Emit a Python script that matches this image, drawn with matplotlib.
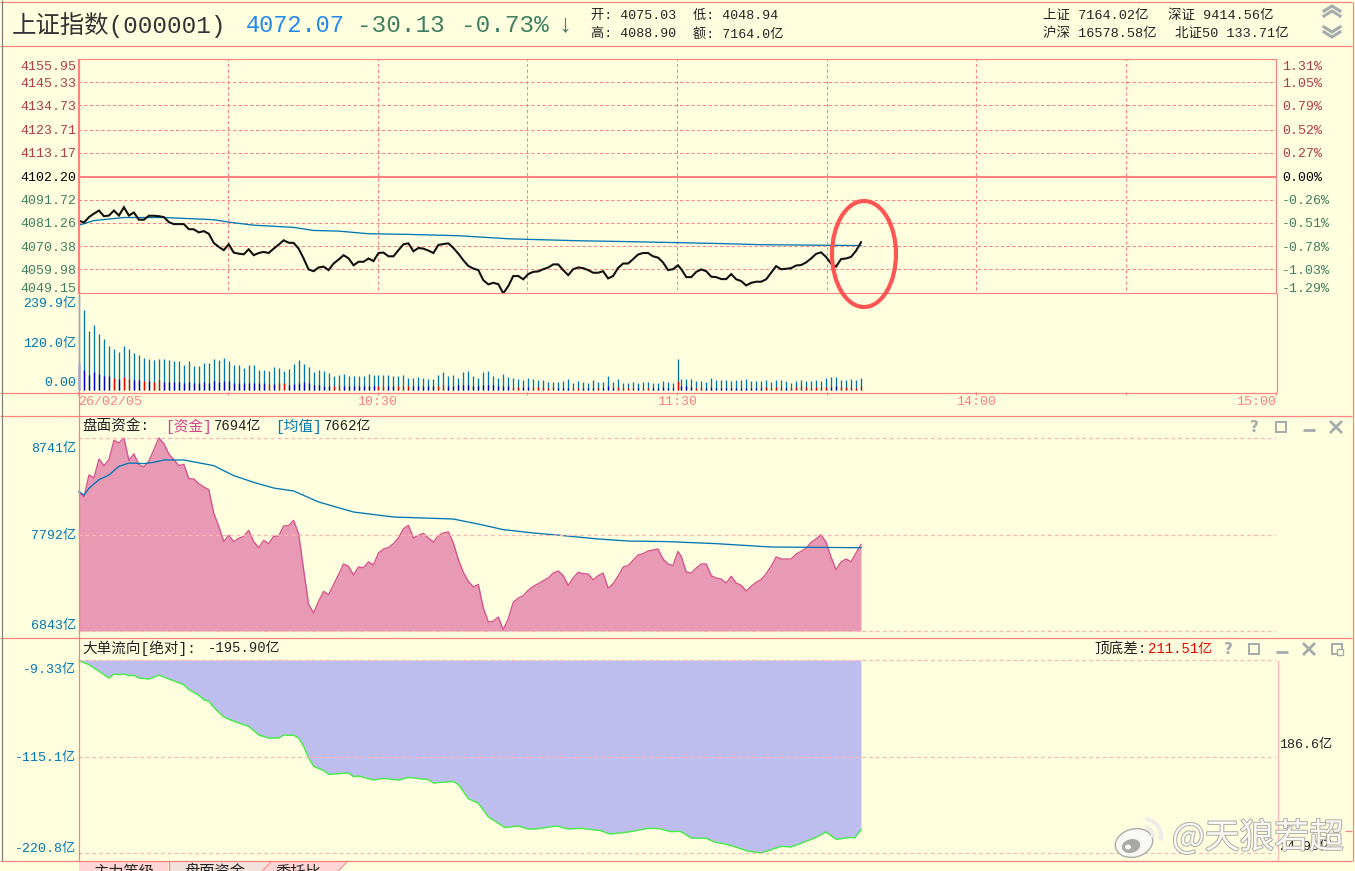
import numpy as np
from matplotlib import pyplot as plt
from matplotlib.patches import Ellipse, Polygon, Arc, Rectangle
from matplotlib.transforms import ScaledTranslation
import matplotlib.patheffects as pe

plt.rcParams['font.family'] = ['Liberation Mono', 'Noto Sans CJK SC', 'DejaVu Sans']

W, H = 1355, 871
BG = "#FFFFE0"
RED = "#FF8080"
LIGHT = "#FFB4B4"
BLUE = "#0077B3"
UP = "#B03A48"
DOWN = "#3F7F5F"
ICON = "#A4ABAB"

# index, one value a minute
price_values = [
    4082.2, 4081.3, 4083.8, 4085.4, 4086.8, 4084.2, 4084.5, 4086.8, 4084.5, 4088.3,
    4084.5, 4085.9, 4082.6, 4082.6, 4084.4, 4084.4, 4084.2, 4083.8, 4081.5, 4080.6,
    4080.6, 4080.6, 4078.3, 4078.2, 4076.8, 4077.4, 4076.2, 4072.0, 4070.2, 4068.7,
    4071.4, 4067.6, 4067.1, 4066.8, 4069.1, 4066.4, 4067.4, 4067.9, 4067.4, 4069.4,
    4071.2, 4073.2, 4072.1, 4072.0, 4069.4, 4064.9, 4059.9, 4059.1, 4060.8, 4061.2,
    4059.6, 4062.6, 4064.4, 4066.4, 4065.0, 4061.8, 4063.4, 4063.4, 4064.9, 4063.7,
    4067.4, 4067.6, 4065.9, 4065.9, 4068.7, 4071.4, 4071.8, 4068.2, 4069.7, 4069.4,
    4068.5, 4067.4, 4071.1, 4071.5, 4071.8, 4069.7, 4067.1, 4064.1, 4061.5, 4060.3,
    4059.6, 4055.0, 4053.1, 4053.8, 4053.2, 4049.0, 4052.3, 4056.9, 4056.9, 4055.4,
    4057.8, 4058.8, 4059.0, 4060.0, 4060.8, 4062.2, 4062.2, 4059.6, 4057.3, 4060.0,
    4060.8, 4060.5, 4059.6, 4058.4, 4058.4, 4059.1, 4055.8, 4056.9, 4060.6, 4062.6,
    4062.6, 4064.6, 4066.7, 4067.4, 4067.4, 4065.9, 4065.3, 4063.1, 4059.6, 4060.0,
    4061.8, 4060.0, 4056.4, 4056.4, 4058.8, 4059.9, 4059.1, 4056.6, 4056.4, 4055.5,
    4055.5, 4057.8, 4055.4, 4054.6, 4052.6, 4053.8, 4054.3, 4054.3, 4055.4, 4058.4,
    4061.4, 4060.0, 4060.2, 4060.5, 4061.7, 4061.9, 4063.1, 4064.9, 4067.0, 4067.7,
    4065.6, 4062.6, 4061.2, 4064.6, 4064.9, 4065.6, 4068.4, 4072.3,
]
price_avg_minutes = [0, 3, 6, 9, 17, 21, 27, 30, 35, 43, 47, 52, 58, 66, 76, 86, 92, 100, 110, 121, 129, 137, 157]
price_avg_values = [4080.1, 4082.2, 4082.9, 4083.6, 4083.6, 4083.2, 4082.6, 4081.5, 4080.1, 4079.1, 4077.7,
                    4077.4, 4076.2, 4075.9, 4075.3, 4073.9, 4073.5, 4073.0, 4072.6, 4072.1, 4071.7, 4071.2, 4070.8]
price_ticks = [4155.95, 4145.33, 4134.73, 4123.71, 4113.17, 4102.20, 4091.72, 4081.26, 4070.38, 4059.98, 4049.15]
pct_labels = ["1.31%", "1.05%", "0.79%", "0.52%", "0.27%", "0.00%", "-0.26%", "-0.51%", "-0.78%", "-1.03%", "-1.29%"]

# turnover, 100m yuan a minute
vol_total = [
    239.9, 202, 149, 164, 141, 129, 111, 104, 96, 111, 104, 93, 88, 81, 78, 77, 78, 78, 77, 72,
    73, 63, 73, 61, 61, 69, 68, 78, 76, 81, 73, 63, 63, 56, 63, 63, 51, 51, 48, 57,
    55, 47, 54, 66, 76, 66, 58, 45, 51, 48, 43, 35, 39, 40, 36, 35, 35, 35, 40, 39,
    39, 38, 37, 35, 35, 38, 30, 31, 32, 31, 29, 28, 38, 45, 35, 37, 30, 46, 48,
    35, 30, 45, 48, 35, 30, 40, 33, 30, 28, 25, 30, 28, 25, 25, 20, 21, 20, 23, 28,
    18, 23, 20, 18, 25, 20, 20, 35, 20, 28, 18, 18, 20, 18, 20, 20, 18, 18, 23, 20, 18, 78,
    28, 28, 28, 23, 23, 20, 30, 25, 25, 25, 23, 25, 25, 28, 23, 23, 23, 25, 20, 25, 25,
    23, 18, 23, 25, 23, 23, 25, 23, 30, 33, 33, 25, 25, 28, 25, 30,
]
# lower part of each bar, negative is drawn blue and positive red
vol_part = [
    -66, -50, -38, -45, -40, -35, -35, 30, -28, 33, 28, -25, -25, 23, -23, 20, 25, -20, -20, -20,
    -20, -18, -20, -18, -18, -20, -18, -23, -20, -23, -23, -18, -18, -18, -18, -18, -18, -18, 15, -15,
    18, 18, -13, -15, -18, -20, -18, -13, -13, -10, -10, 10, 10, -10, -10, -10, -10, -10, -10, -10,
    10, 10, -10, -10, 10, 10, 10, -10, -10, -10, -10, -10, 10, 13, -10, -10, -13, -13, -13,
    -10, -10, -13, -13, -13, -10, -10, -10, 8, 8, -8, -8, 8, 8, 8, 5, 8, -5, -5, -5,
    5, 5, -5, -5, -5, 5, -5, -10, -5, 8, 5, 5, 5, -5, 5, 5, -5, -5, -8, -5, -5, 23,
    -10, -10, -8, 5, 8, -5, -8, -5, -5, -5, -5, -5, -5, -5, -5, -5, -5, 8, 5, 8, 8,
    -5, 5, 8, 10, 8, 5, 8, 8, 8, -8, -10, 8, 8, 8, 5, 10,
]
vol_ticks = [239.9, 120.0, 0.0]
vol_labels = ["239.9亿", "120.0亿", "0.00"]

# capital on the board, one value a minute
cap_values = [
    8213, 8161, 8377, 8348, 8534, 8469, 8528, 8718, 8692, 8741, 8521, 8584, 8479, 8456, 8512, 8626, 8741, 8685, 8584, 8528,
    8469, 8482, 8341, 8338, 8292, 8259, 8233, 8003, 7872, 7722, 7784, 7722, 7754, 7774, 7833, 7722, 7663, 7735, 7702, 7774,
    7777, 7876, 7879, 7931, 7800, 7446, 7105, 7020, 7135, 7233, 7200, 7299, 7397, 7502, 7479, 7394, 7472, 7466, 7522, 7492,
    7610, 7649, 7663, 7702, 7758, 7849, 7882, 7758, 7784, 7803, 7758, 7718, 7781, 7807, 7817, 7708, 7545, 7420, 7331, 7276,
    7302, 7069, 6932, 6938, 6981, 6856, 6964, 7125, 7168, 7190, 7243, 7282, 7308, 7338, 7364, 7413, 7433, 7390, 7292, 7364,
    7420, 7407, 7404, 7345, 7387, 7413, 7266, 7308, 7381, 7472, 7486, 7538, 7590, 7604, 7630, 7640, 7649, 7551, 7502, 7486,
    7626, 7577, 7423, 7413, 7463, 7502, 7502, 7387, 7364, 7354, 7315, 7381, 7315, 7292, 7236, 7282, 7322, 7348, 7407, 7479,
    7571, 7551, 7551, 7551, 7600, 7626, 7656, 7715, 7748, 7790, 7715, 7571, 7446, 7522, 7551, 7525, 7610, 7694,
]
cap_avg_minutes = [0, 1, 2, 4, 6, 8, 10, 13, 15, 17, 21, 27, 31, 35, 39, 43, 48, 55, 63, 71, 75, 80, 85, 91, 97, 104, 110, 118, 128, 139, 157]
cap_avg_values = [8213, 8180, 8246, 8331, 8377, 8462, 8495, 8489, 8502, 8525, 8525, 8469, 8371, 8305, 8249, 8220, 8112, 8013,
                  7964, 7951, 7944, 7895, 7840, 7807, 7781, 7748, 7728, 7722, 7702, 7669, 7662]
cap_ticks = [8741, 7792, 6843]
cap_labels = ["8741亿", "7792亿", "6843亿"]

# large order flow
big_minutes = [0, 2, 4, 6, 7, 8, 9, 10, 11, 12, 14, 16, 18, 21, 22, 24, 25, 26, 27, 29, 31, 34, 36, 38, 40, 41, 43, 44, 45, 46,
               47, 49, 50, 54, 55, 56, 59, 61, 64, 66, 70, 71, 75, 76, 78, 80, 82, 84, 85.4, 88, 90, 91.6, 95, 96, 98, 100.6,
               104.5, 106.4, 110, 114, 116, 118.5, 120.5, 123, 126, 127.6, 130.4, 134.3, 137, 141, 143, 146, 147.7, 150, 152,
               155, 155.7, 157]
big_values = [-10.1, -14.4, -21.7, -29.1, -24.7, -25.4, -24.7, -26.5, -26.1, -29.1, -30.1, -25.8, -30.1, -36.4, -41.8, -48.0,
              -52.8, -54.6, -61.2, -71.8, -76.5, -82.0, -91.5, -94.8, -94.8, -91.5, -91.9, -94.8, -103.9, -116.7, -125.8,
              -130.6, -134.6, -133.1, -137.2, -136.4, -140.8, -139.0, -140.8, -137.9, -140.5, -144.1, -142.3, -145.9, -161.3,
              -166.4, -181.3, -188.3, -193.0, -191.2, -194.5, -194.5, -191.6, -191.6, -194.5, -193.8, -196.3, -200.0, -197.8,
              -193.8, -193.8, -197.4, -197.1, -204.4, -204.7, -208.7, -211.7, -218.6, -220.8, -213.5, -214.2, -208.0, -204.4,
              -197.8, -205.8, -203.6, -204.4, -195.2]
big_ticks = [-9.33, -115.1, -220.8]
big_labels = ["-9.33亿", "-115.1亿", "-220.8亿"]

time_ticks = [0, 30, 60, 90, 120, 150, 180, 210, 240]
time_labels = ["26/02/05", "", "10:30", "", "11:30", "", "14:00", "", "15:00"]


def shift(minutes):
    # the lunch break squeezes the afternoon a little to the left
    minutes = np.asarray(minutes, dtype=float)
    return np.where(minutes > 120.5, minutes - 0.34, minutes) + 0.2


def make_axes(top, bottom, v1, y1, v2, y2):
    ax = fig.add_axes([78 / W, 1 - bottom / H, (1276 - 78) / W, (bottom - top) / H])
    ax.set_facecolor("none")
    per_px = (v1 - v2) / (y2 - y1)
    ax.set_ylim(v2 - (bottom - y2) * per_px, v1 + (y1 - top) * per_px)
    ax.set_xlim(0, 240)
    ax.set_xticks([])
    for s in ax.spines.values():
        s.set_visible(False)
    ax.tick_params(axis="y", length=0, pad=1)
    return ax


def y_labels(ax, ticks, labels, colors, top_off, bottom_off):
    ax.set_yticks(ticks)
    ax.set_yticklabels(labels, fontsize=9.5)
    ticklabels = ax.get_yticklabels()
    for t, c in zip(ticklabels, colors):
        t.set_color(c)
    # first and last label sit inside the panel, not on their line
    ticklabels[0].set_transform(ticklabels[0].get_transform() + ScaledTranslation(0, -top_off / 100, fig.dpi_scale_trans))
    ticklabels[-1].set_transform(ticklabels[-1].get_transform() + ScaledTranslation(0, bottom_off / 100, fig.dpi_scale_trans))


fig = plt.figure(figsize=(W / 100, H / 100), dpi=100, facecolor=BG)

# price panel
ax1 = make_axes(59, 293, 4155.95, 59, 4049.15, 293)
price_colors = [UP] * 5 + ["black"] + [DOWN] * 5
y_labels(ax1, price_ticks, [f"{v:.2f}" for v in price_ticks], price_colors, 6, 6)
for v in price_ticks[1:-1]:
    if v == 4102.20:
        ax1.axhline(v, color=RED, lw=1.5)
    else:
        ax1.axhline(v, color=RED, lw=0.75, dashes=(3, 2.5))
for m in time_ticks[1:-1]:
    ax1.axvline(m, color=RED, lw=0.75, dashes=(3, 2.5), ymin=0.012)
for s in ax1.spines.values():
    s.set_visible(True)
    s.set_color(RED)
    s.set_linewidth(0.8)
ax1.plot(shift(price_avg_minutes), price_avg_values, color=BLUE, lw=0.95)
ax1.plot(shift(np.arange(len(price_values))), price_values, color="#111111", lw=1.5, solid_joinstyle="miter")
ax1r = ax1.twinx()
ax1r.set_ylim(ax1.get_ylim())
ax1r.set_facecolor("none")
ax1r.tick_params(axis="y", length=0, pad=4.5)
for s in ax1r.spines.values():
    s.set_visible(False)
y_labels(ax1r, price_ticks, pct_labels, price_colors, 6, 6)

# volume panel
ax2 = make_axes(295, 392.5, 239.9, 295, 0, 390)
y_labels(ax2, vol_ticks, vol_labels, [BLUE] * 3, 7, 8)
vol_x = shift(np.arange(len(vol_total)))
ax2.vlines(vol_x, 0, vol_total, color=BLUE, lw=0.95)
part = np.array(vol_part, dtype=float)
ax2.vlines(vol_x[part < 0], 0, -part[part < 0], color="#0000CC", lw=0.95)
ax2.vlines(vol_x[part > 0], 0, part[part > 0], color="#EE0000", lw=0.95)
ax2.set_xticks(time_ticks)
ax2.set_xticklabels(time_labels, fontsize=9.5, color=RED)
ax2.tick_params(axis="x", length=2.5, width=0.75, color=RED, pad=0)
ax2.get_xticklabels()[0].set_horizontalalignment("left")
ax2.get_xticklabels()[-1].set_horizontalalignment("right")

# capital panel
ax3 = make_axes(415, 637, 8741, 438, 6843, 631)
y_labels(ax3, cap_ticks, cap_labels, [BLUE] * 3, 9, 7)
for v in cap_ticks:
    ax3.axhline(v, color=LIGHT, lw=0.9, dashes=(3, 2.5), zorder=3)
cap_x = shift(np.arange(len(cap_values)))
ax3.fill_between(cap_x, cap_values, 6843, color="#E899B3", lw=0)
ax3.plot(cap_x, cap_values, color="#D6548F", lw=1.0)
ax3.plot(shift(cap_avg_minutes), cap_avg_values, color=BLUE, lw=0.95)

# large order panel
ax4 = make_axes(637, 860, -9.33, 660, -220.8, 853)
y_labels(ax4, big_ticks, big_labels, [BLUE] * 3, 8, 6)
for v in big_ticks:
    ax4.axhline(v, color=LIGHT, lw=0.9, dashes=(3, 2.5), zorder=3)
ax4.fill_between(shift(big_minutes), big_values, -9.33, color="#BEBEEE", lw=0)
ax4.plot(shift(big_minutes), big_values, color="#44EE44", lw=1.0)

# frame, titles and everything else in screen pixels
over = fig.add_axes([0, 0, 1, 1])
over.set_xlim(0, W)
over.set_ylim(H, 0)
over.axis("off")
over.set_facecolor("none")


def hline(y, x0, x1, color=RED, lw=0.9):
    over.plot([x0, x1], [y, y], color=color, lw=lw, solid_capstyle="butt")


def vline(x, y0, y1, color=RED, lw=0.9):
    over.plot([x, x], [y0, y1], color=color, lw=lw, solid_capstyle="butt")


def txt(x, y, s, color="#222222", size=9.5, **kw):
    over.text(x, y, s, color=color, fontsize=size, va="center", **kw)


def chevrons(x, y, step):
    for dy in (0, step):
        over.plot([x - 8, x, x + 8], [y + dy + step, y + dy, y + dy + step], color=ICON, lw=2.2, solid_joinstyle="miter")


def buttons(y, xs):
    over.text(xs[0], y, "?", color=ICON, fontsize=11, fontweight="bold", ha="center", va="center", family="DejaVu Sans")
    over.add_patch(Rectangle((xs[1] - 5, y - 5), 10, 10, fc="none", ec=ICON, lw=1.4))
    over.plot([xs[2] - 6, xs[2] + 6], [y + 3, y + 3], color=ICON, lw=2, solid_capstyle="butt")
    over.plot([xs[3] - 5, xs[3] + 5], [y - 5, y + 5], color=ICON, lw=2)
    over.plot([xs[3] - 5, xs[3] + 5], [y + 5, y - 5], color=ICON, lw=2)
    if len(xs) > 4:
        over.add_patch(Rectangle((xs[4] - 5, y - 5), 10, 10, fc="none", ec=ICON, lw=1.4))
        over.add_patch(Rectangle((xs[4], y), 6, 6, fc=BG, ec=ICON, lw=1))


hline(2.5, 0, 1352)
hline(46.5, 0, 1352)
hline(392.5, 0, 1277)
hline(415.5, 0, 1352)
hline(637.5, 0, 1352)
hline(860.5, 0, 1352)
vline(1.5, 0, 861, color="#808080")
vline(78.5, 59, 861)
vline(1277, 293, 392)
vline(1277.5, 660, 860, color=LIGHT, lw=0.8)
vline(1352.5, 2, 861)
hline(830.5, 1345, 1352)

# header
txt(12, 25, "上证指数(000001)", size=17.6, color="#333333")
txt(246, 25, "4072.07", size=17, color="#2288EE")
txt(357, 25, "-30.13", size=17.6, color=DOWN)
txt(461, 25, "-0.73%", size=17.6, color=DOWN)
txt(565, 24, "↓", size=18, color=DOWN, ha="center")
txt(591, 16, "开: 4075.03")
txt(693, 16, "低: 4048.94")
txt(591, 34, "高: 4088.90")
txt(693, 34, "额: 7164.0亿")
txt(1043, 16, "上证 7164.02亿", size=9.7)
txt(1168, 16, "深证 9414.56亿", size=9.7)
txt(1043, 34, "沪深 16578.58亿", size=9.7)
txt(1175, 34, "北证50 133.71亿", size=9.7)
chevrons(1332, 6, 5)
# two chevrons pointing down
for dy in (0, 5):
    over.plot([1324, 1332, 1340], [27 + dy, 32 + dy, 27 + dy], color=ICON, lw=2.2, solid_joinstyle="miter")

# capital panel title
txt(82, 426, "盘面资金:", size=10.5)
txt(165, 426, "[资金]", color="#D6408A", size=10.5)
txt(214, 426, "7694亿", size=10)
txt(275, 426, "[均值]", color=BLUE, size=10.5)
txt(324, 426, "7662亿", size=10)

# large order panel title
txt(82, 648, "大单流向[绝对]:", size=10.5)
txt(208, 648, "-195.90亿", size=10)
txt(1094, 649, "顶底差:", size=10.5)
txt(1148, 649, "211.51亿", color="#EE0000", size=10)
txt(1279, 745, "186.6亿")
txt(1279, 847, "24.93亿")

# window buttons
buttons(427, [1254, 1281, 1309, 1336])
buttons(649, [1228, 1254, 1282, 1309, 1337])

# tabs at the bottom
over.add_patch(Polygon([(79, 861), (168, 861), (168, 871), (79, 871)], fc="#FFD5D5", ec="none"))
over.add_patch(Polygon([(169, 861), (272, 861), (262, 871), (169, 871)], fc="#F2E2DE", ec="none"))
over.add_patch(Polygon([(272, 861), (348, 861), (338, 871), (262, 871)], fc="#FFD5D5", ec="none"))
over.plot([168.5, 168.5], [861, 871], color=RED, lw=0.9)
over.plot([272, 262], [861, 871], color=RED, lw=0.7)
over.plot([348, 338], [861, 871], color=RED, lw=0.7)
over.text(93, 865, "主力等级", color="#222222", fontsize=11, va="top")
over.text(184, 865, "盘面资金", color="#222222", fontsize=11, va="top")
over.text(275, 865, "委托比", color="#222222", fontsize=11, va="top")

# the hand drawn circle
over.add_patch(Ellipse((864, 254), 64, 106, fc="none", ec="#FF5555", lw=3))

# watermark
stroke = [pe.withStroke(linewidth=1.4, foreground="#ADADA6")]
over.text(1172, 838, "@天狼若超", color="#F8F8F4", fontsize=25, va="center",
          family=["Noto Sans CJK SC"], path_effects=stroke)
over.add_patch(Ellipse((1134, 843), 38, 28, angle=-15, fc="#F8F8F4", ec="#ADADA6", lw=1))
over.add_patch(Ellipse((1131, 846), 20, 15, angle=-15, fc="#A8A8A4", ec="#F8F8F4", lw=1))
over.add_patch(Ellipse((1128, 847), 6, 5, fc="#F8F8F4", ec="none"))
over.add_patch(Arc((1144, 836), 18, 18, theta1=-80, theta2=10, ec="#EDEDE6", lw=3))
over.add_patch(Arc((1144, 836), 34, 34, theta1=-85, theta2=15, ec="#EDEDE6", lw=3))

fig.savefig("out.png", dpi=100, facecolor=BG)
